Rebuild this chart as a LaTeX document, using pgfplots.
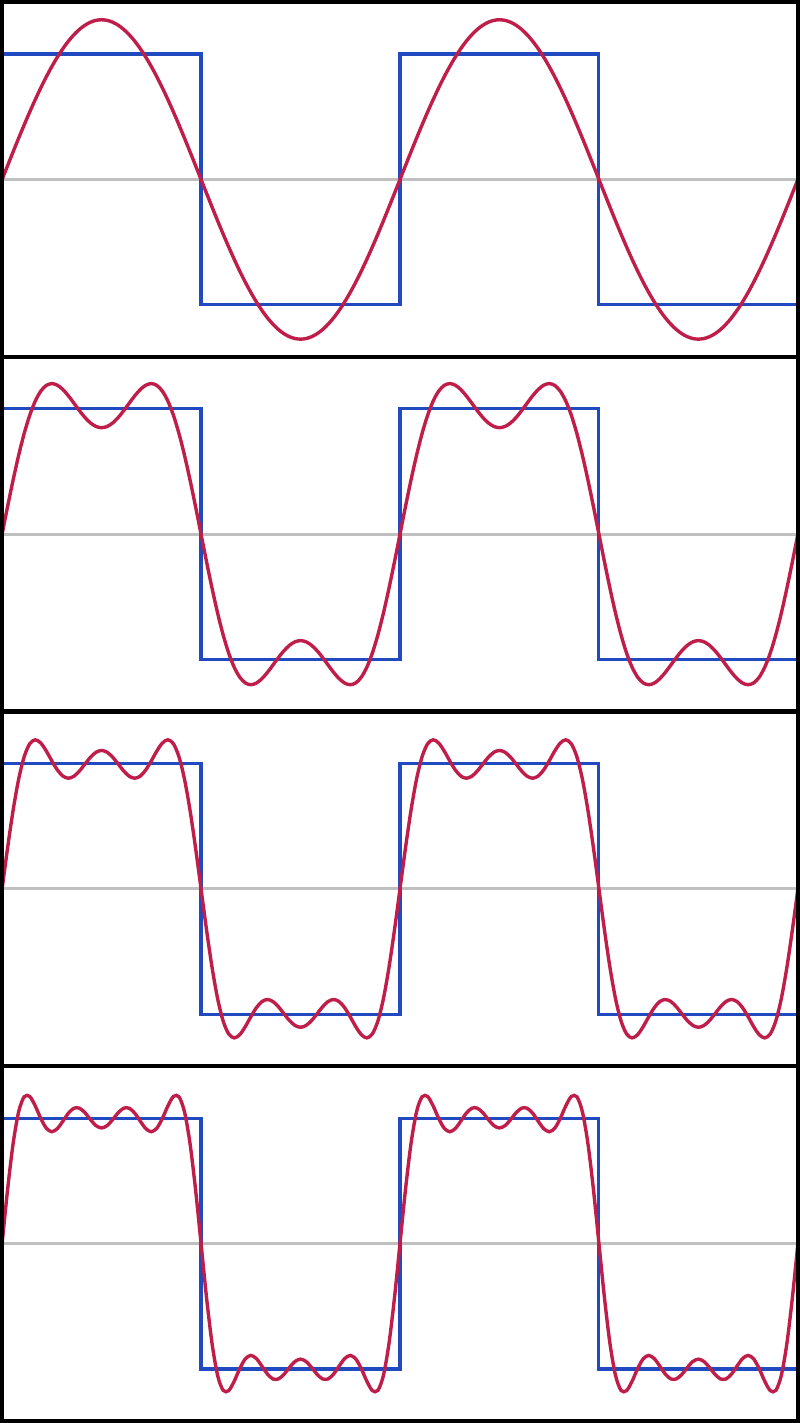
\documentclass[border=0pt]{standalone}
\usepackage{pgfplots}
\usepackage{pgfplotstable}
\pgfplotsset{compat=1.18}
\definecolor{sqblue}{RGB}{33,74,192}
\definecolor{fcrim}{RGB}{192,30,74}
\definecolor{zgray}{RGB}{192,192,192}
\pgfplotstableread{
x a b c d
0 0 0 0 0
5 0.1110 0.2208 0.3284 0.4328
10 0.2211 0.4333 0.6284 0.7993
15 0.3295 0.6296 0.8756 1.0513
20 0.4355 0.8030 1.0538 1.1707
25 0.5381 0.9481 1.1566 1.1725
30 0.6366 1.0610 1.1884 1.0974
35 0.7303 1.1403 1.1625 0.9976
40 0.8184 1.1860 1.0989 0.9198
45 0.9003 1.2004 1.0204 0.8917
50 0.9754 1.1876 0.9483 0.9167
55 1.0430 1.1528 0.8991 0.9760
60 1.1027 1.1027 0.8821 1.0397
65 1.1539 1.0441 0.8980 1.0792
70 1.1965 0.9842 0.9400 1.0794
75 1.2299 0.9298 0.9957 1.0427
80 1.2539 0.8863 1.0500 0.9878
85 1.2684 0.8584 1.0892 0.9402
90 1.2732 0.8488 1.1035 0.9216
95 1.2684 0.8584 1.0892 0.9402
100 1.2539 0.8863 1.0500 0.9878
105 1.2299 0.9298 0.9957 1.0427
110 1.1965 0.9842 0.9400 1.0794
115 1.1539 1.0441 0.8980 1.0792
120 1.1027 1.1027 0.8821 1.0397
125 1.0430 1.1528 0.8991 0.9760
130 0.9754 1.1876 0.9483 0.9167
135 0.9003 1.2004 1.0204 0.8917
140 0.8184 1.1860 1.0989 0.9198
145 0.7303 1.1403 1.1625 0.9976
150 0.6366 1.0610 1.1884 1.0974
155 0.5381 0.9481 1.1566 1.1725
160 0.4355 0.8030 1.0538 1.1707
165 0.3295 0.6296 0.8756 1.0513
170 0.2211 0.4333 0.6284 0.7993
175 0.1110 0.2208 0.3284 0.4328
180 0 0 0 0
185 -0.1110 -0.2208 -0.3284 -0.4328
190 -0.2211 -0.4333 -0.6284 -0.7993
195 -0.3295 -0.6296 -0.8756 -1.0513
200 -0.4355 -0.8030 -1.0538 -1.1707
205 -0.5381 -0.9481 -1.1566 -1.1725
210 -0.6366 -1.0610 -1.1884 -1.0974
215 -0.7303 -1.1403 -1.1625 -0.9976
220 -0.8184 -1.1860 -1.0989 -0.9198
225 -0.9003 -1.2004 -1.0204 -0.8917
230 -0.9754 -1.1876 -0.9483 -0.9167
235 -1.0430 -1.1528 -0.8991 -0.9760
240 -1.1027 -1.1027 -0.8821 -1.0397
245 -1.1539 -1.0441 -0.8980 -1.0792
250 -1.1965 -0.9842 -0.9400 -1.0794
255 -1.2299 -0.9298 -0.9957 -1.0427
260 -1.2539 -0.8863 -1.0500 -0.9878
265 -1.2684 -0.8584 -1.0892 -0.9402
270 -1.2732 -0.8488 -1.1035 -0.9216
275 -1.2684 -0.8584 -1.0892 -0.9402
280 -1.2539 -0.8863 -1.0500 -0.9878
285 -1.2299 -0.9298 -0.9957 -1.0427
290 -1.1965 -0.9842 -0.9400 -1.0794
295 -1.1539 -1.0441 -0.8980 -1.0792
300 -1.1027 -1.1027 -0.8821 -1.0397
305 -1.0430 -1.1528 -0.8991 -0.9760
310 -0.9754 -1.1876 -0.9483 -0.9167
315 -0.9003 -1.2004 -1.0204 -0.8917
320 -0.8184 -1.1860 -1.0989 -0.9198
325 -0.7303 -1.1403 -1.1625 -0.9976
330 -0.6366 -1.0610 -1.1884 -1.0974
335 -0.5381 -0.9481 -1.1566 -1.1725
340 -0.4355 -0.8030 -1.0538 -1.1707
345 -0.3295 -0.6296 -0.8756 -1.0513
350 -0.2211 -0.4333 -0.6284 -0.7993
355 -0.1110 -0.2208 -0.3284 -0.4328
360 0 0 0 0
365 0.1110 0.2208 0.3284 0.4328
370 0.2211 0.4333 0.6284 0.7993
375 0.3295 0.6296 0.8756 1.0513
380 0.4355 0.8030 1.0538 1.1707
385 0.5381 0.9481 1.1566 1.1725
390 0.6366 1.0610 1.1884 1.0974
395 0.7303 1.1403 1.1625 0.9976
400 0.8184 1.1860 1.0989 0.9198
405 0.9003 1.2004 1.0204 0.8917
410 0.9754 1.1876 0.9483 0.9167
415 1.0430 1.1528 0.8991 0.9760
420 1.1027 1.1027 0.8821 1.0397
425 1.1539 1.0441 0.8980 1.0792
430 1.1965 0.9842 0.9400 1.0794
435 1.2299 0.9298 0.9957 1.0427
440 1.2539 0.8863 1.0500 0.9878
445 1.2684 0.8584 1.0892 0.9402
450 1.2732 0.8488 1.1035 0.9216
455 1.2684 0.8584 1.0892 0.9402
460 1.2539 0.8863 1.0500 0.9878
465 1.2299 0.9298 0.9957 1.0427
470 1.1965 0.9842 0.9400 1.0794
475 1.1539 1.0441 0.8980 1.0792
480 1.1027 1.1027 0.8821 1.0397
485 1.0430 1.1528 0.8991 0.9760
490 0.9754 1.1876 0.9483 0.9167
495 0.9003 1.2004 1.0204 0.8917
500 0.8184 1.1860 1.0989 0.9198
505 0.7303 1.1403 1.1625 0.9976
510 0.6366 1.0610 1.1884 1.0974
515 0.5381 0.9481 1.1566 1.1725
520 0.4355 0.8030 1.0538 1.1707
525 0.3295 0.6296 0.8756 1.0513
530 0.2211 0.4333 0.6284 0.7993
535 0.1110 0.2208 0.3284 0.4328
540 0 0 0 0
545 -0.1110 -0.2208 -0.3284 -0.4328
550 -0.2211 -0.4333 -0.6284 -0.7993
555 -0.3295 -0.6296 -0.8756 -1.0513
560 -0.4355 -0.8030 -1.0538 -1.1707
565 -0.5381 -0.9481 -1.1566 -1.1725
570 -0.6366 -1.0610 -1.1884 -1.0974
575 -0.7303 -1.1403 -1.1625 -0.9976
580 -0.8184 -1.1860 -1.0989 -0.9198
585 -0.9003 -1.2004 -1.0204 -0.8917
590 -0.9754 -1.1876 -0.9483 -0.9167
595 -1.0430 -1.1528 -0.8991 -0.9760
600 -1.1027 -1.1027 -0.8821 -1.0397
605 -1.1539 -1.0441 -0.8980 -1.0792
610 -1.1965 -0.9842 -0.9400 -1.0794
615 -1.2299 -0.9298 -0.9957 -1.0427
620 -1.2539 -0.8863 -1.0500 -0.9878
625 -1.2684 -0.8584 -1.0892 -0.9402
630 -1.2732 -0.8488 -1.1035 -0.9216
635 -1.2684 -0.8584 -1.0892 -0.9402
640 -1.2539 -0.8863 -1.0500 -0.9878
645 -1.2299 -0.9298 -0.9957 -1.0427
650 -1.1965 -0.9842 -0.9400 -1.0794
655 -1.1539 -1.0441 -0.8980 -1.0792
660 -1.1027 -1.1027 -0.8821 -1.0397
665 -1.0430 -1.1528 -0.8991 -0.9760
670 -0.9754 -1.1876 -0.9483 -0.9167
675 -0.9003 -1.2004 -1.0204 -0.8917
680 -0.8184 -1.1860 -1.0989 -0.9198
685 -0.7303 -1.1403 -1.1625 -0.9976
690 -0.6366 -1.0610 -1.1884 -1.0974
695 -0.5381 -0.9481 -1.1566 -1.1725
700 -0.4355 -0.8030 -1.0538 -1.1707
705 -0.3295 -0.6296 -0.8756 -1.0513
710 -0.2211 -0.4333 -0.6284 -0.7993
715 -0.1110 -0.2208 -0.3284 -0.4328
720 0 0 0 0
}\fourier
\pgfplotsset{panel/.style={
  width=397.9pt, height=177.35pt, scale only axis,
  xmin=0, xmax=720, ymin=-1.414, ymax=1.414,
  ticks=none, axis on top,
  axis line style={line width=2.1pt, black},
  anchor=north west}}
\newcommand\panel[2]{%
\begin{axis}[panel, at={(0pt,#1)}]
\addplot[zgray, line width=1.6pt] coordinates {(0,0) (720,0)};
\addplot[sqblue, line width=1.55pt] coordinates {(0,1) (180,1) (180,-1) (360,-1) (360,1) (540,1) (540,-1) (720,-1)};
\addplot[fcrim, line width=1.7pt, smooth] table[x=x, y=#2] {\fourier};
\end{axis}}
\begin{document}
\begin{tikzpicture}
\panel{0pt}{a}
\panel{-177.35pt}{b}
\panel{-354.7pt}{c}
\panel{-532.05pt}{d}
\end{tikzpicture}
\end{document}
